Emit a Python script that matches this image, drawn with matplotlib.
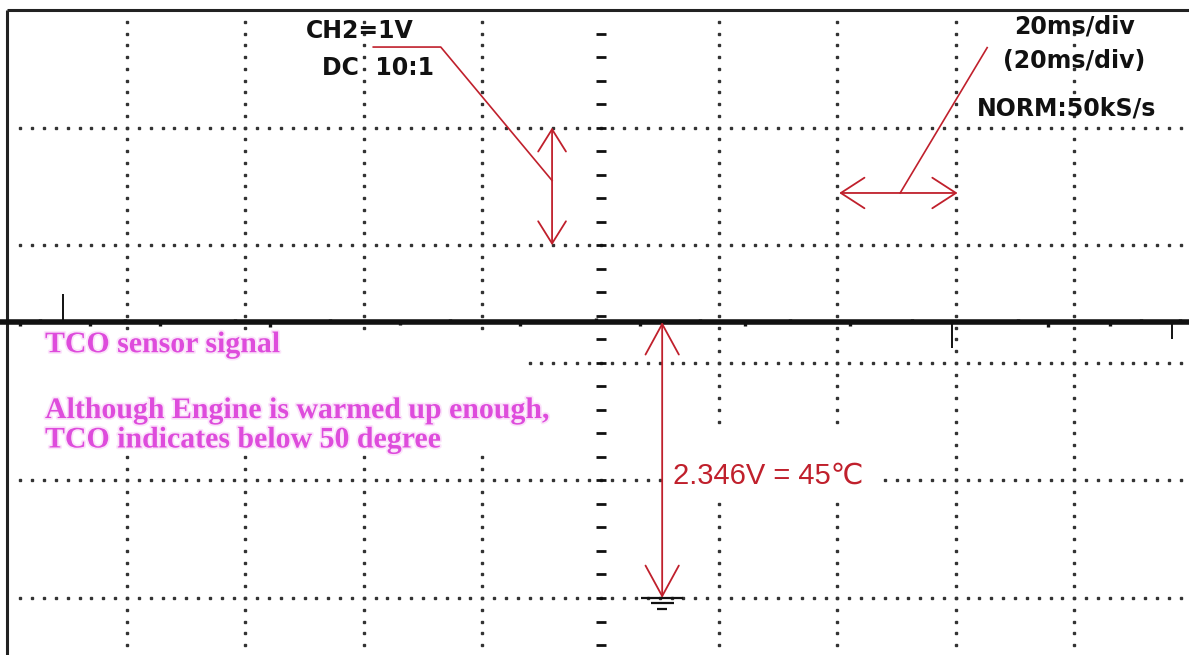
import numpy as np
import matplotlib
matplotlib.use("Agg")
import matplotlib.pyplot as plt
import matplotlib.patheffects as pe
from matplotlib.patches import FancyArrowPatch, Rectangle

# scope settings: CH2 1 V/div, 20 ms/div
MS_PER_DIV = 20
V_PER_DIV = 1
X_LINES = [20, 40, 60, 80, 120, 140, 160, 180]   # dotted verticals (ms); 100 = centre axis
Y_LINES = [0, 1, 2, 3, 4]                          # dotted horizontals (V)

# TCO sensor trace (V) - flat level with a few glitches
LEVEL_V = 2.346
TEMP_C = 45
SPIKE_T = [9.2, 159.4, 196.5]
SPIKE_V = [2.585, 2.126, 2.202]
GLITCH_T = [1.9, 5.3, 13.8, 19.7, 25.6, 38.2, 44.2, 54.3, 66.1, 74.6, 86.4, 99.3,
            106.7, 116.8, 124.4, 132.0, 142.1, 152.6, 170.5, 175.6, 186.1, 191.2, 197.9]
GLITCH_DV = [-0.03, 0.025, -0.035, 0.03, -0.03, 0.025, -0.04, 0.03, -0.025, 0.03, -0.03, 0.035,
             -0.03, 0.03, -0.035, 0.03, -0.03, 0.03, 0.03, -0.04, -0.03, 0.025, 0.03]

RED = "#C0202C"
PINK = "#DE4CDC"
INK = "#111111"
BLACK_FONT = dict(family=["DejaVu Sans"], weight="bold", fontsize=17, color=INK)

fig = plt.figure(figsize=(11.89, 6.55), dpi=100)
ax = fig.add_axes([0, 0, 1, 1])
ax.set_xlim(-1.453, 199.39)
ax.set_ylim(-0.4847, 5.085)
ax.axis("off")

# frame
ax.plot([-0.25, 200], [5.0, 5.0], color="#222222", lw=2.2, solid_capstyle="butt", zorder=2)
ax.plot([-0.25, -0.25], [5.0, -1], color="#222222", lw=2.2, solid_capstyle="butt", zorder=2)

# dotted graticule
ydots = np.arange(4.9, -0.5, -0.1)
for x in X_LINES:
    ax.plot(np.full_like(ydots, x), ydots, ls="none", marker="s", ms=1.5, color="#333333", zorder=1)
xdots = np.arange(2, 200, 2)
for y in Y_LINES:
    ax.plot(xdots, np.full_like(xdots, y, dtype=float), ls="none", marker="s", ms=1.5,
            color="#333333", zorder=1)

# centre axis minor ticks
cy = np.arange(4.8, -0.5, -0.2)
ax.hlines(cy, 100 - 0.85, 100 + 0.85, color=INK, lw=2.0, zorder=1)

# white boxes behind the annotations
ax.add_patch(Rectangle((0.2, 1.24), 87.5, 1.02, facecolor="white", edgecolor="none", zorder=1.5))
ax.add_patch(Rectangle((111.2, 0.84), 35.8, 0.62, facecolor="white", edgecolor="none", zorder=1.5))

# trace
ax.plot([-1.5, 200], [LEVEL_V, LEVEL_V], color=INK, lw=4.0, zorder=3)
ax.vlines(GLITCH_T, LEVEL_V, np.array(GLITCH_DV) + LEVEL_V, color=INK, lw=2.4, zorder=3)
ax.vlines(SPIKE_T, LEVEL_V, SPIKE_V, color=INK, lw=1.4, zorder=3)

# ground marker
gx = 110.4
for dy, half in [(0.0, 3.6), (-0.045, 1.95), (-0.09, 0.85)]:
    ax.plot([gx - half, gx + half], [dy, dy], color=INK, lw=1.6, solid_capstyle="butt", zorder=4)


def arrow(p0, p1, hl, hw):
    ax.add_patch(FancyArrowPatch(p0, p1, arrowstyle=f"<->,head_length={hl},head_width={hw}",
                                 mutation_scale=1, color=RED, lw=1.3, shrinkA=0, shrinkB=0, zorder=5))


# level measurement
arrow((gx, 0), (gx, LEVEL_V), 22, 12)
ax.text(112.2, 0.975, f"{LEVEL_V}V = {TEMP_C}\u2103", ha="left", va="baseline", color=RED,
        fontsize=21, family=["Liberation Sans", "DejaVu Sans"], zorder=6)

# volts/div indicator
arrow((91.8, 4 - V_PER_DIV), (91.8, 4.0), 16, 10)
ax.plot([61.6, 73.0, 91.8], [4.685, 4.685, 3.55], color=RED, lw=1.2, zorder=5)
ax.text(50.2, 4.76, f"CH2={V_PER_DIV}V", ha="left", va="baseline", **BLACK_FONT, zorder=6)
ax.text(53.0, 4.447, "DC  10:1", ha="left", va="baseline", **BLACK_FONT, zorder=6)

# time/div indicator
arrow((140.3, 3.444), (140.3 + MS_PER_DIV, 3.444), 17, 11)
ax.plot([165.3, 150.6], [4.68, 3.444], color=RED, lw=1.2, zorder=5)
ax.text(180.0, 4.80, f"{MS_PER_DIV}ms/div", ha="center", va="baseline", **BLACK_FONT, zorder=6)
ax.text(180.0, 4.507, f"({MS_PER_DIV}ms/div)", ha="center", va="baseline", **BLACK_FONT, zorder=6)
ax.text(178.7, 4.107, "NORM:50kS/s", ha="center", va="baseline", **BLACK_FONT, zorder=6)

# notes
glow = [pe.withStroke(linewidth=2.5, foreground="#FBE4FA")]
note = dict(family=["Liberation Serif"], weight="bold", fontsize=21.5, color=PINK,
            ha="left", va="baseline", zorder=6, path_effects=glow)
ax.text(6.15, 2.09, "TCO sensor signal", **note)
ax.text(6.15, 1.53, "Although Engine is warmed up enough,", **note)
ax.text(6.15, 1.28, "TCO indicates below 50 degree", **note)

fig.savefig("out.png", dpi=100, facecolor="white")
